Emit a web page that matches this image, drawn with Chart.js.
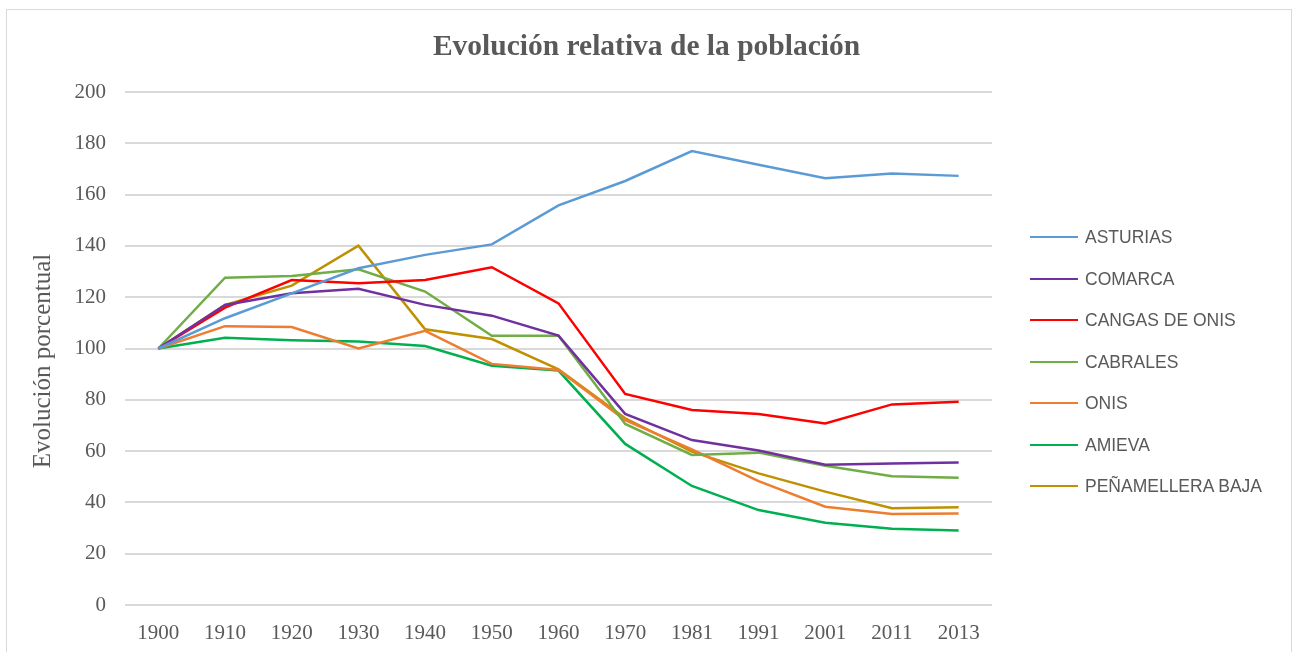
<!DOCTYPE html>
<html>
<head>
<meta charset="utf-8">
<script src="https://cdn.jsdelivr.net/npm/chart.js@4"></script>
<style>
  html, body { margin: 0; padding: 0; background: #fff; }
  #wrap { position: relative; width: 1293px; height: 652px; overflow: hidden; }
  #frame { position: absolute; left: 6px; top: 9px; width: 1286px; height: 660px; border: 1.5px solid #d9d9d9; box-sizing: border-box; }
  #title { position: absolute; left: 0; width: 1293px; top: 29px; text-align: center;
    font-family: "Liberation Serif", "Times New Roman", serif; font-weight: bold; font-size: 29.5px; color: #595959; }
  #ytitle { position: absolute; left: 42px; top: 361px; width: 300px; height: 30px; line-height: 30px; margin-left: -150px; margin-top: -15px;
    text-align: center; transform: rotate(-90deg); white-space: nowrap;
    font-family: "Liberation Serif", "Times New Roman", serif; font-size: 25px; color: #595959; }
  #legend { position: absolute; left: 1030px; top: 0; }
  .item { position: absolute; left: 0; white-space: nowrap; font-family: "Liberation Sans", Arial, sans-serif;
    font-size: 17.5px; color: #595959; height: 20px; line-height: 20px; }
  .item span.ln { position: absolute; left: 0; top: 9px; width: 48px; height: 2px; }
  .item span.tx { position: absolute; left: 55px; top: 0; }
  canvas { position: absolute; left: 0; top: 0; }
</style>
</head>
<body>
<div id="wrap">
  <div id="frame"></div>
  <canvas id="chart" width="1293" height="652"></canvas>
  <div id="title">Evolución relativa de la población</div>
  <div id="ytitle">Evolución porcentual</div>
  <div id="legend"></div>
</div>
<script>
var years = ['1900', '1910', '1920', '1930', '1940', '1950', '1960', '1970', '1981', '1991', '2001', '2011', '2013'];

var asturias = [100, 111.8, 121.5, 131.3, 136.5, 140.6, 155.8, 165.3, 177, 171.6, 166.4, 168.2, 167.3];
var comarca = [100, 117, 121.5, 123.3, 117, 112.8, 105, 74.5, 64.3, 60.2, 54.7, 55.2, 55.6];
var cangas = [100, 115.9, 126.7, 125.4, 126.7, 131.7, 117.6, 82.3, 76, 74.5, 70.8, 78.2, 79.2];
var cabrales = [100, 127.6, 128.3, 130.9, 122.2, 105, 105, 70.6, 58.5, 59.4, 54.3, 50.2, 49.6];
var onis = [100, 108.7, 108.4, 100, 106.9, 94, 91.6, 72.1, 60.7, 48.3, 38.3, 35.5, 35.7];
var amieva = [100, 104.2, 103.2, 102.7, 101, 93.3, 91.4, 62.8, 46.4, 37, 32.1, 29.7, 29];
var penamellera = [100, 117, 124.5, 140.1, 107.5, 103.7, 91.9, 72.8, 59.8, 51.3, 44.2, 37.7, 38.1];

var names = ['ASTURIAS', 'COMARCA', 'CANGAS DE ONIS', 'CABRALES', 'ONIS', 'AMIEVA', 'PEÑAMELLERA BAJA'];
var colors = ['#5B9BD5', '#7030A0', '#FF0000', '#70AD47', '#ED7D31', '#00B050', '#BF9000'];
var series = [asturias, comarca, cangas, cabrales, onis, amieva, penamellera];

var yTicks = [0, 20, 40, 60, 80, 100, 120, 140, 160, 180, 200];

var datasets = series.map(function (d, i) {
  return {
    label: names[i],
    data: d,
    borderColor: colors[i],
    backgroundColor: colors[i],
    borderWidth: 2.5,
    pointRadius: 0,
    tension: 0,
    fill: false
  };
});

var serif = '"Liberation Serif", "Times New Roman", serif';

new Chart(document.getElementById('chart'), {
  type: 'line',
  data: { labels: years, datasets: datasets },
  options: {
    responsive: false,
    animation: false,
    layout: { padding: { left: 6, right: 301, top: 92, bottom: 0 } },
    plugins: { legend: { display: false }, title: { display: false }, tooltip: { enabled: false } },
    scales: {
      x: {
        offset: true,
        grid: { display: false, drawTicks: false },
        border: { display: false },
        ticks: { color: '#595959', font: { family: serif, size: 21 }, padding: 16, maxRotation: 0 },
        afterFit: function (s) { s.height = 47; }
      },
      y: {
        min: 0,
        max: 200,
        afterBuildTicks: function (s) { s.ticks = yTicks.map(function (v) { return { value: v }; }); },
        grid: { color: '#d9d9d9', lineWidth: 2, drawTicks: false },
        border: { display: false },
        ticks: { color: '#595959', font: { family: serif, size: 21 }, padding: 19 },
        afterFit: function (s) { s.width = 119; }
      }
    }
  }
});

// leyenda a la derecha
var legend = document.getElementById('legend');
names.forEach(function (n, i) {
  var div = document.createElement('div');
  div.className = 'item';
  div.style.top = Math.round(227 + i * 41.5) + 'px';
  div.innerHTML = '<span class="ln" style="background:' + colors[i] + '"></span><span class="tx">' + n + '</span>';
  legend.appendChild(div);
});
</script>
</body>
</html>
